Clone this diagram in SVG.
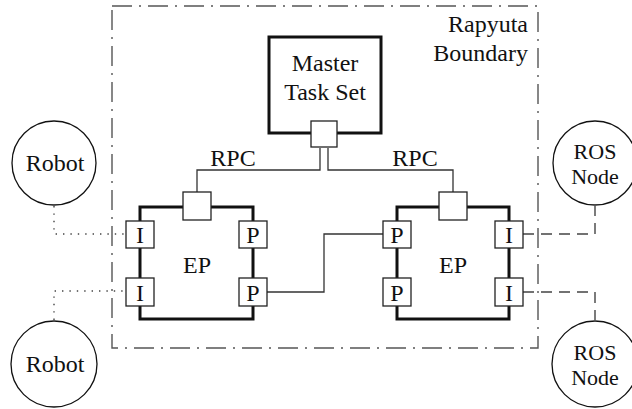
<svg xmlns="http://www.w3.org/2000/svg" width="632" height="409" viewBox="0 0 632 409">
<style>
text{font-family:"Liberation Serif","Times New Roman",serif;font-size:24px;fill:#111;text-anchor:middle}
.sm{font-size:22px}
.thick{fill:#fff;stroke:#111;stroke-width:3}
.sq{fill:#fff;stroke:#222;stroke-width:1.3}
.circ{fill:#fff;stroke:#111;stroke-width:1.3}
.ln{fill:none;stroke:#333;stroke-width:1.3}
.dot{fill:none;stroke:#444;stroke-width:1.4;stroke-dasharray:1.4,6}
.dash{fill:none;stroke:#444;stroke-width:1.4;stroke-dasharray:11,7}
.bnd{fill:none;stroke:#555;stroke-width:1.4;stroke-dasharray:20,7,2,7}
</style>
<rect width="632" height="409" fill="#fff"/>
<g id="boundary">
<rect class="bnd" x="112" y="6" width="426" height="342"/>
<text x="528" y="32" style="text-anchor:end">Rapyuta</text>
<text x="528" y="61" style="text-anchor:end">Boundary</text>
</g>
<g id="connectors">
<path class="ln" d="M320,148 V170 H197 V192"/>
<path class="ln" d="M328,148 V170 H453 V192"/>
<path class="ln" d="M267,292 H324 V234 H383"/>
<path class="dot" d="M54,206 V234 H126"/>
<path class="dot" d="M54,320 V291 H126"/>
<path class="dash" d="M523,234 H595 V206"/>
<path class="dash" d="M523,292 H595 V320"/>
<text x="233" y="166">RPC</text>
<text x="415" y="166">RPC</text>
</g>
<g id="master">
<rect class="thick" x="269" y="37" width="112" height="96"/>
<text x="325" y="71">Master</text>
<text x="325" y="100">Task Set</text>
<rect class="sq" x="311" y="121" width="26" height="26"/>
</g>
<g id="ep-left">
<rect class="thick" x="140" y="207" width="113" height="112"/>
<text x="197" y="273">EP</text>
<rect class="sq" x="183" y="192" width="28" height="28"/>
<rect class="sq" x="126" y="221" width="28" height="27"/>
<text x="140" y="243">I</text>
<rect class="sq" x="126" y="278" width="28" height="28"/>
<text x="140" y="301">I</text>
<rect class="sq" x="239" y="221" width="28" height="27"/>
<text x="253" y="243">P</text>
<rect class="sq" x="239" y="278" width="28" height="28"/>
<text x="253" y="301">P</text>
</g>
<g id="ep-right">
<rect class="thick" x="397" y="207" width="112" height="112"/>
<text x="453" y="273">EP</text>
<rect class="sq" x="439" y="192" width="28" height="28"/>
<rect class="sq" x="383" y="221" width="28" height="27"/>
<text x="397" y="243">P</text>
<rect class="sq" x="383" y="278" width="28" height="28"/>
<text x="397" y="301">P</text>
<rect class="sq" x="495" y="221" width="28" height="27"/>
<text x="509" y="243">I</text>
<rect class="sq" x="495" y="278" width="28" height="28"/>
<text x="509" y="301">I</text>
</g>
<g id="robot-top">
<circle class="circ" cx="54" cy="163" r="42"/>
<text x="55" y="171">Robot</text>
</g>
<g id="robot-bottom">
<circle class="circ" cx="54" cy="364" r="43"/>
<text x="55" y="372">Robot</text>
</g>
<g id="ros-top">
<circle class="circ" cx="595" cy="163" r="42"/>
<text class="sm" x="595" y="159">ROS</text>
<text class="sm" x="595" y="184">Node</text>
</g>
<g id="ros-bottom">
<circle class="circ" cx="595" cy="364" r="43"/>
<text class="sm" x="595" y="360">ROS</text>
<text class="sm" x="595" y="385">Node</text>
</g>
</svg>
